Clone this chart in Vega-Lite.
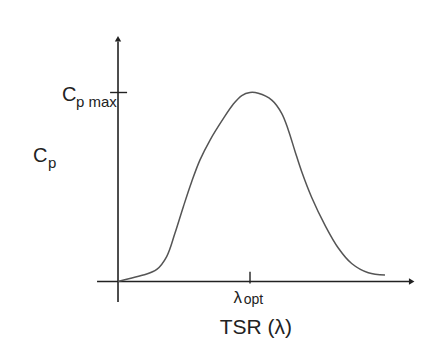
{
  "$schema": "https://vega.github.io/schema/vega-lite/v6.json",
  "width": 445,
  "height": 346,
  "autosize": {"type": "none"},
  "padding": 0,
  "background": "white",
  "config": {"view": {"stroke": null}},
  "datasets": {
    "curve": [
      {"tsr": 0, "cp": 0},
      {"tsr": 0.53, "cp": 0.006},
      {"tsr": 1.53, "cp": 0.017},
      {"tsr": 2.35, "cp": 0.032},
      {"tsr": 2.95, "cp": 0.066},
      {"tsr": 3.45, "cp": 0.1275},
      {"tsr": 3.96, "cp": 0.198},
      {"tsr": 4.47, "cp": 0.2646},
      {"tsr": 4.97, "cp": 0.3217},
      {"tsr": 5.58, "cp": 0.3743},
      {"tsr": 6.38, "cp": 0.4307},
      {"tsr": 6.97, "cp": 0.4683},
      {"tsr": 7.5, "cp": 0.492},
      {"tsr": 8.0, "cp": 0.5},
      {"tsr": 8.5, "cp": 0.498},
      {"tsr": 9.32, "cp": 0.48},
      {"tsr": 9.92, "cp": 0.445},
      {"tsr": 10.32, "cp": 0.401},
      {"tsr": 10.73, "cp": 0.3442},
      {"tsr": 11.13, "cp": 0.291},
      {"tsr": 11.74, "cp": 0.2222},
      {"tsr": 12.55, "cp": 0.1484},
      {"tsr": 13.35, "cp": 0.0886},
      {"tsr": 14.16, "cp": 0.0476},
      {"tsr": 15.17, "cp": 0.023},
      {"tsr": 16.18, "cp": 0.017}
    ]
  },
  "layer": [
    {
      "data": {"values": [{"x": -1.27, "x2": 17.7, "y": 0}]},
      "mark": {"type": "rule", "color": "#222", "strokeWidth": 1.6},
      "encoding": {
        "x": {"field": "x", "type": "quantitative", "scale": {"domain": [-7.152, 19.818], "nice": false, "zero": false}, "axis": null},
        "x2": {"field": "x2"},
        "y": {"field": "y", "type": "quantitative", "scale": {"domain": [-0.1706, 0.7447], "nice": false, "zero": false}, "axis": null}
      }
    },
    {
      "data": {"values": [{"x": 0, "y": -0.054, "y2": 0.635}]},
      "mark": {"type": "rule", "color": "#222", "strokeWidth": 1.6},
      "encoding": {
        "x": {"field": "x", "type": "quantitative"},
        "y": {"field": "y", "type": "quantitative"},
        "y2": {"field": "y2"}
      }
    },
    {
      "data": {"values": [{"x": -0.48, "x2": 0.55, "y": 0.5}]},
      "mark": {"type": "rule", "color": "#222", "strokeWidth": 1.4},
      "encoding": {
        "x": {"field": "x", "type": "quantitative"},
        "x2": {"field": "x2"},
        "y": {"field": "y", "type": "quantitative"}
      }
    },
    {
      "data": {"values": [{"x": 8.0, "y": -0.005, "y2": 0.026}]},
      "mark": {"type": "rule", "color": "#222", "strokeWidth": 1.4},
      "encoding": {
        "x": {"field": "x", "type": "quantitative"},
        "y": {"field": "y", "type": "quantitative"},
        "y2": {"field": "y2"}
      }
    },
    {
      "data": {"values": [{"x": 17.8, "y": 0}]},
      "mark": {"type": "point", "shape": "triangle-right", "filled": true, "color": "#222", "size": 40, "opacity": 1},
      "encoding": {
        "x": {"field": "x", "type": "quantitative"},
        "y": {"field": "y", "type": "quantitative"}
      }
    },
    {
      "data": {"values": [{"x": 0, "y": 0.642}]},
      "mark": {"type": "point", "shape": "triangle-up", "filled": true, "color": "#222", "size": 40, "opacity": 1},
      "encoding": {
        "x": {"field": "x", "type": "quantitative"},
        "y": {"field": "y", "type": "quantitative"}
      }
    },
    {
      "data": {"name": "curve"},
      "mark": {"type": "line", "interpolate": "catmull-rom", "color": "#555", "strokeWidth": 1.5},
      "encoding": {
        "x": {"field": "tsr", "type": "quantitative"},
        "y": {"field": "cp", "type": "quantitative"}
      }
    },
    {
      "data": {"values": [
        {"label": "C", "x": -3.39, "y": 0.4775},
        {"label": "C", "x": -5.15, "y": 0.316}
      ]},
      "mark": {"type": "text", "align": "left", "baseline": "alphabetic", "font": "Liberation Sans", "fontSize": 20, "color": "#222"},
      "encoding": {
        "x": {"field": "x", "type": "quantitative"},
        "y": {"field": "y", "type": "quantitative"},
        "text": {"field": "label"}
      }
    },
    {
      "data": {"values": [
        {"label": "p max", "x": -2.55, "y": 0.4616},
        {"label": "p", "x": -4.24, "y": 0.3}
      ]},
      "mark": {"type": "text", "align": "left", "baseline": "alphabetic", "font": "Liberation Sans", "fontSize": 15, "color": "#222"},
      "encoding": {
        "x": {"field": "x", "type": "quantitative"},
        "y": {"field": "y", "type": "quantitative"},
        "text": {"field": "label"}
      }
    },
    {
      "data": {"values": [{"label": "λ", "x": 7.0, "y": -0.057}]},
      "mark": {"type": "text", "align": "left", "baseline": "alphabetic", "font": "Liberation Sans", "fontSize": 17, "color": "#222"},
      "encoding": {
        "x": {"field": "x", "type": "quantitative"},
        "y": {"field": "y", "type": "quantitative"},
        "text": {"field": "label"}
      }
    },
    {
      "data": {"values": [{"label": "opt", "x": 7.62, "y": -0.06}]},
      "mark": {"type": "text", "align": "left", "baseline": "alphabetic", "font": "Liberation Sans", "fontSize": 14, "color": "#222"},
      "encoding": {
        "x": {"field": "x", "type": "quantitative"},
        "y": {"field": "y", "type": "quantitative"},
        "text": {"field": "label"}
      }
    },
    {
      "data": {"values": [{"label": "TSR (λ)", "x": 8.36, "y": -0.139}]},
      "mark": {"type": "text", "align": "center", "baseline": "alphabetic", "font": "Liberation Sans", "fontSize": 21, "color": "#222"},
      "encoding": {
        "x": {"field": "x", "type": "quantitative"},
        "y": {"field": "y", "type": "quantitative"},
        "text": {"field": "label"}
      }
    }
  ]
}
